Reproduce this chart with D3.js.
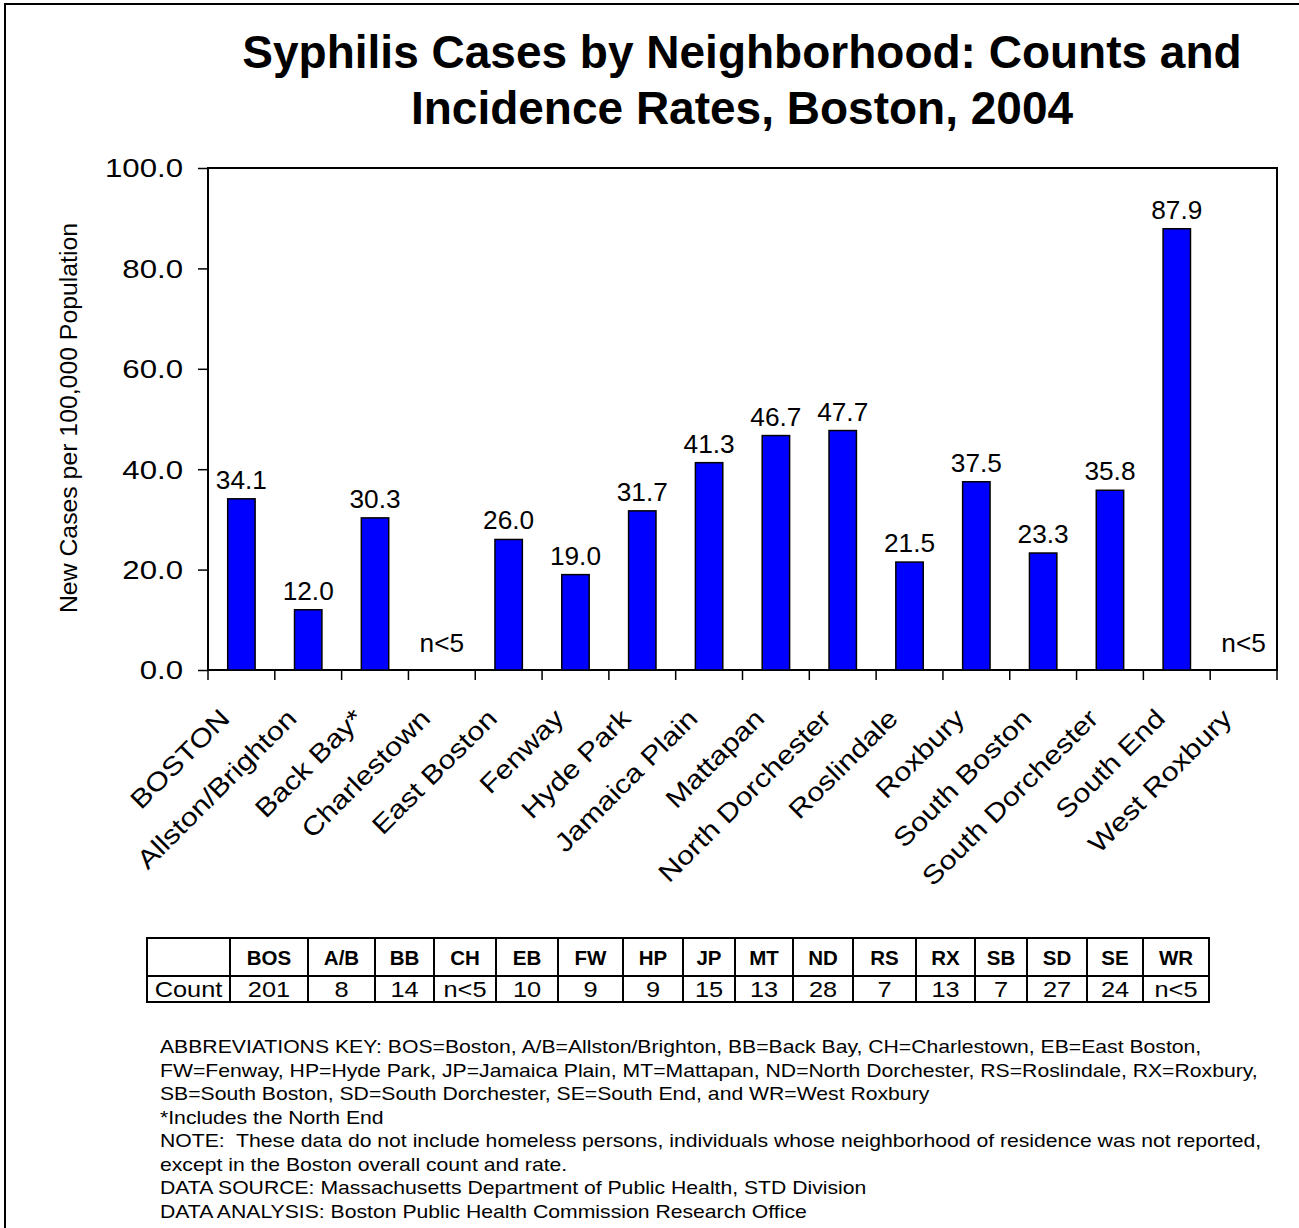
<!DOCTYPE html>
<html>
<head>
<meta charset="utf-8">
<script src="https://cdn.jsdelivr.net/npm/d3@7"></script>
<style>
  body { margin: 0; background: #fff; }
  svg { display: block; font-family: "Liberation Sans", Arial, sans-serif; }
</style>
</head>
<body>
<div id="chart"></div>
<script>
// data
const neighborhoods = ["BOSTON", "Allston/Brighton", "Back Bay*", "Charlestown", "East Boston", "Fenway",
  "Hyde Park", "Jamaica Plain", "Mattapan", "North Dorchester", "Roslindale", "Roxbury",
  "South Boston", "South Dorchester", "South End", "West Roxbury"];
const rates = [34.1, 12.0, 30.3, null, 26.0, 19.0, 31.7, 41.3, 46.7, 47.7, 21.5, 37.5, 23.3, 35.8, 87.9, null];
const abbrevs = ["BOS", "A/B", "BB", "CH", "EB", "FW", "HP", "JP", "MT", "ND", "RS", "RX", "SB", "SD", "SE", "WR"];
const counts = ["201", "8", "14", "n<5", "10", "9", "9", "15", "13", "28", "7", "13", "7", "27", "24", "n<5"];
const yTicks = [0, 20, 40, 60, 80, 100];
const suppressedLabel = "n<5";

const titleLines = ["Syphilis Cases by Neighborhood: Counts and", "Incidence Rates, Boston, 2004"];
const yTitle = "New Cases per 100,000 Population";
const notes = [
  "ABBREVIATIONS KEY: BOS=Boston, A/B=Allston/Brighton, BB=Back Bay, CH=Charlestown, EB=East Boston,",
  "FW=Fenway, HP=Hyde Park, JP=Jamaica Plain, MT=Mattapan, ND=North Dorchester, RS=Roslindale, RX=Roxbury,",
  "SB=South Boston, SD=South Dorchester, SE=South End, and WR=West Roxbury",
  "*Includes the North End",
  "NOTE:  These data do not include homeless persons, individuals whose neighborhood of residence was not reported,",
  "except in the Boston overall count and rate.",
  "DATA SOURCE: Massachusetts Department of Public Health, STD Division",
  "DATA ANALYSIS: Boston Public Health Commission Research Office"
];

// table column widths (first column holds the row label)
const colWidths = [83, 78, 67, 59, 62, 62, 65, 60, 52, 58, 60, 63, 59, 52, 60, 56, 66];

const width = 1299, height = 1228;
const plot = { left: 208, top: 168, right: 1277, bottom: 670 };

// the original's text is a bit wider than Arial at the same height,
// so most labels get a small horizontal stretch along their baseline
function place(x, y, rot, sx) {
  return `translate(${x},${y})` + (rot ? ` rotate(${rot})` : "") + (sx ? ` scale(${sx},1)` : "");
}

const svg = d3.select("#chart").append("svg")
  .attr("width", width)
  .attr("height", height);

// outer frame, runs off the right and bottom edge like the picture
svg.append("rect")
  .attr("x", 5).attr("y", 4)
  .attr("width", 1310).attr("height", 1240)
  .attr("fill", "none").attr("stroke", "#000").attr("stroke-width", 2);

// title
svg.append("g").selectAll("text")
  .data(titleLines)
  .join("text")
  .attr("x", 742)
  .attr("y", (d, i) => 68 + i * 56)
  .attr("text-anchor", "middle")
  .attr("font-size", 46)
  .attr("font-weight", "bold")
  .text(d => d);

const x = d3.scaleBand().domain(neighborhoods).range([plot.left, plot.right]).padding(0);
const y = d3.scaleLinear().domain([0, 100]).range([plot.bottom, plot.top]);
const barW = x.bandwidth() * 0.41;

// plot box
svg.append("rect")
  .attr("x", plot.left).attr("y", plot.top)
  .attr("width", plot.right - plot.left).attr("height", plot.bottom - plot.top)
  .attr("fill", "none").attr("stroke", "#000").attr("stroke-width", 2);

// y axis: ticks from d3, labels drawn separately so they can be stretched
const yAxis = svg.append("g")
  .attr("transform", `translate(${plot.left},0)`)
  .call(d3.axisLeft(y).tickValues(yTicks).tickFormat("").tickSize(10));
yAxis.select(".domain").remove();
yAxis.selectAll(".tick line").attr("stroke", "#000").attr("stroke-width", 1.5);

svg.append("g").selectAll("text")
  .data(yTicks)
  .join("text")
  .attr("transform", d => place(plot.left - 25, y(d), 0, 1.2))
  .attr("dy", "0.36em")
  .attr("text-anchor", "end")
  .attr("font-size", 26)
  .text(d3.format(".1f"));

// x ticks sit on the category boundaries
const boundaries = neighborhoods.map(d => x(d)).concat([plot.right]);
svg.append("g").selectAll("line")
  .data(boundaries)
  .join("line")
  .attr("x1", d => d).attr("x2", d => d)
  .attr("y1", plot.bottom).attr("y2", plot.bottom + 10)
  .attr("stroke", "#000").attr("stroke-width", 1.5);

// x labels, rotated
svg.append("g").selectAll("text")
  .data(neighborhoods)
  .join("text")
  .attr("transform", d => place(x(d) + x.bandwidth() / 2 - 10, plot.bottom + 50, -45, 1.17))
  .attr("text-anchor", "end")
  .attr("font-size", 26)
  .text(d => d);

// y title
svg.append("text")
  .attr("transform", place(77, (plot.top + plot.bottom) / 2 - 1, -90))
  .attr("text-anchor", "middle")
  .attr("font-size", 24.8)
  .text(yTitle);

const barData = neighborhoods.map((d, i) => ({ name: d, rate: rates[i] }));

// bars
svg.append("g").selectAll("rect")
  .data(barData.filter(d => d.rate != null))
  .join("rect")
  .attr("x", d => x(d.name) + (x.bandwidth() - barW) / 2)
  .attr("y", d => y(d.rate))
  .attr("width", barW)
  .attr("height", d => y(0) - y(d.rate))
  .attr("fill", "#0000ff")
  .attr("stroke", "#000")
  .attr("stroke-width", 1.5);

// value labels, n<5 where the rate was suppressed
svg.append("g").selectAll("text")
  .data(barData)
  .join("text")
  .attr("transform", d => place(x(d.name) + x.bandwidth() / 2,
    d.rate == null ? plot.bottom - 18 : y(d.rate) - 10, 0, 1.05))
  .attr("text-anchor", "middle")
  .attr("font-size", 25)
  .text(d => d.rate == null ? suppressedLabel : d3.format(".1f")(d.rate));

// count table
const table = { left: 147, top: 938, headH: 38, rowH: 26 };
const colX = [table.left];
colWidths.forEach(w => colX.push(colX[colX.length - 1] + w));
const tableRight = colX[colX.length - 1];
const tg = svg.append("g");

tg.append("rect")
  .attr("x", table.left).attr("y", table.top)
  .attr("width", tableRight - table.left).attr("height", table.headH + table.rowH)
  .attr("fill", "none").attr("stroke", "#000").attr("stroke-width", 2);
tg.append("line")
  .attr("x1", table.left).attr("x2", tableRight)
  .attr("y1", table.top + table.headH).attr("y2", table.top + table.headH)
  .attr("stroke", "#000").attr("stroke-width", 2);
tg.selectAll("line.col")
  .data(colX.slice(1, -1))
  .join("line")
  .attr("class", "col")
  .attr("x1", d => d).attr("x2", d => d)
  .attr("y1", table.top).attr("y2", table.top + table.headH + table.rowH)
  .attr("stroke", "#000").attr("stroke-width", 2);

const cellMid = i => (colX[i] + colX[i + 1]) / 2;
tg.selectAll("text.head")
  .data(abbrevs)
  .join("text")
  .attr("class", "head")
  .attr("x", (d, i) => cellMid(i + 1))
  .attr("y", table.top + 27)
  .attr("text-anchor", "middle")
  .attr("font-size", 20.5)
  .attr("font-weight", "bold")
  .text(d => d);
tg.selectAll("text.count")
  .data(["Count"].concat(counts))
  .join("text")
  .attr("class", "count")
  .attr("transform", (d, i) => place(cellMid(i), table.top + table.headH + 21, 0, 1.18))
  .attr("text-anchor", "middle")
  .attr("font-size", 21.5)
  .text(d => d);

// footnotes
svg.append("g").selectAll("text")
  .data(notes)
  .join("text")
  .attr("transform", (d, i) => place(160, 1053 + i * 23.5, 0, 1.115))
  .attr("font-size", 19)
  .style("white-space", "pre")
  .text(d => d);
</script>
</body>
</html>
